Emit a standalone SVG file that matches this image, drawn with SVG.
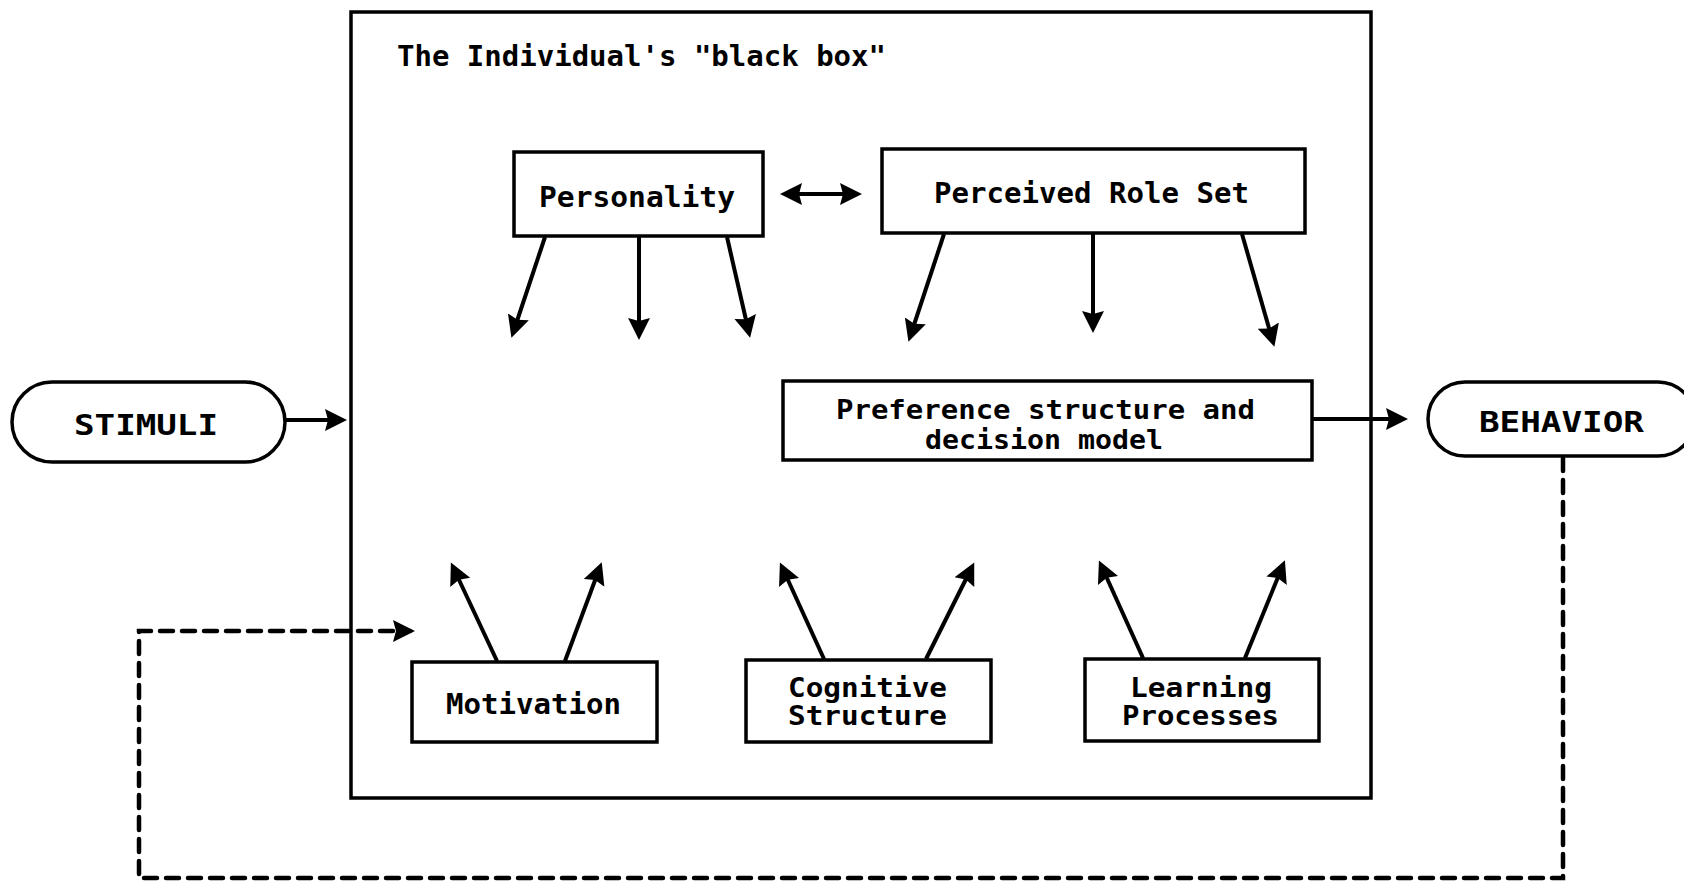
<svg xmlns="http://www.w3.org/2000/svg" width="1684" height="881" viewBox="0 0 1684 881">
  <style>
    .box { fill: #fff; stroke: #000; stroke-width: 3.5; }
    .frame { fill: none; stroke: #000; stroke-width: 3.5; }
    .lbl { font-family: "DejaVu Sans Mono", "Liberation Mono", monospace; font-weight: bold; font-size: 29px; fill: #000; }
    .lbl2 { font-family: "DejaVu Sans Mono", "Liberation Mono", monospace; font-weight: bold; font-size: 27px; fill: #000; }
    .link { fill: none; stroke: #000; stroke-width: 4; }
    .feedback { fill: none; stroke: #000; stroke-width: 4.5; stroke-dasharray: 13 9; stroke-linecap: round; }
  </style>
  <defs>
    <marker id="head" markerUnits="userSpaceOnUse" markerWidth="24" markerHeight="26" viewBox="0 -13 24 26" refX="17" refY="0" orient="auto-start-reverse">
      <path d="M22,0 L0,-11 L3,0 L0,11 Z" fill="#000"/>
    </marker>
  </defs>

  <rect width="1684" height="881" fill="#fff"/>

  <!-- the individual's black box -->
  <g id="black-box">
    <rect class="frame" x="351" y="12" width="1020" height="786"/>
    <text class="lbl" x="397" y="66" textLength="489" lengthAdjust="spacingAndGlyphs">The Individual's "black box"</text>
  </g>

  <g id="stimuli">
    <rect class="box" x="12" y="382" width="273" height="80" rx="40" ry="40"/>
    <text class="lbl" x="74" y="435" textLength="144" lengthAdjust="spacingAndGlyphs">STIMULI</text>
  </g>

  <g id="behavior">
    <rect class="box" x="1428" y="382" width="267" height="74" rx="37" ry="37"/>
    <text class="lbl" x="1479" y="432" textLength="165" lengthAdjust="spacingAndGlyphs">BEHAVIOR</text>
  </g>

  <g id="personality">
    <rect class="box" x="514" y="152" width="249" height="84"/>
    <text class="lbl" x="539" y="207" textLength="196" lengthAdjust="spacingAndGlyphs">Personality</text>
  </g>

  <g id="role-set">
    <rect class="box" x="882" y="149" width="423" height="84"/>
    <text class="lbl" x="934" y="203" textLength="315" lengthAdjust="spacingAndGlyphs">Perceived Role Set</text>
  </g>

  <g id="preference">
    <rect class="box" x="783" y="381" width="529" height="79"/>
    <text class="lbl2" x="836" y="419" textLength="419" lengthAdjust="spacingAndGlyphs">Preference structure and</text>
    <text class="lbl2" x="925" y="449" textLength="238" lengthAdjust="spacingAndGlyphs">decision model</text>
  </g>

  <g id="motivation">
    <rect class="box" x="412" y="662" width="245" height="80"/>
    <text class="lbl" x="446" y="714" textLength="175" lengthAdjust="spacingAndGlyphs">Motivation</text>
  </g>

  <g id="cognitive">
    <rect class="box" x="746" y="660" width="245" height="82"/>
    <text class="lbl2" x="788" y="697" textLength="159" lengthAdjust="spacingAndGlyphs">Cognitive</text>
    <text class="lbl2" x="788" y="725" textLength="159" lengthAdjust="spacingAndGlyphs">Structure</text>
  </g>

  <g id="learning">
    <rect class="box" x="1085" y="659" width="234" height="82"/>
    <text class="lbl2" x="1130" y="697" textLength="142" lengthAdjust="spacingAndGlyphs">Learning</text>
    <text class="lbl2" x="1122" y="725" textLength="157" lengthAdjust="spacingAndGlyphs">Processes</text>
  </g>

  <!-- connectors -->
  <g id="connectors">
    <line class="link" x1="285" y1="420" x2="342" y2="420" marker-end="url(#head)"/>
    <line class="link" x1="1312" y1="419" x2="1403" y2="419" marker-end="url(#head)"/>
    <line class="link" x1="785" y1="194" x2="857" y2="194" marker-start="url(#head)" marker-end="url(#head)"/>

    <line class="link" x1="545" y1="237" x2="513" y2="333" marker-end="url(#head)"/>
    <line class="link" x1="639" y1="237" x2="639" y2="335" marker-end="url(#head)"/>
    <line class="link" x1="727" y1="237" x2="749" y2="333" marker-end="url(#head)"/>

    <line class="link" x1="944" y1="234" x2="910" y2="337" marker-end="url(#head)"/>
    <line class="link" x1="1093" y1="234" x2="1093" y2="328" marker-end="url(#head)"/>
    <line class="link" x1="1242" y1="234" x2="1273" y2="342" marker-end="url(#head)"/>

    <line class="link" x1="497" y1="661" x2="453" y2="567" marker-end="url(#head)"/>
    <line class="link" x1="565" y1="661" x2="600" y2="567" marker-end="url(#head)"/>

    <line class="link" x1="824" y1="659" x2="782" y2="567" marker-end="url(#head)"/>
    <line class="link" x1="926" y1="659" x2="972" y2="567" marker-end="url(#head)"/>

    <line class="link" x1="1143" y1="658" x2="1101" y2="565" marker-end="url(#head)"/>
    <line class="link" x1="1245" y1="658" x2="1283" y2="565" marker-end="url(#head)"/>

    <!-- feedback loop from behavior back into the box -->
    <path class="feedback" d="M1563,458 V878 H139 V631 H410" marker-end="url(#head)"/>
  </g>
</svg>
